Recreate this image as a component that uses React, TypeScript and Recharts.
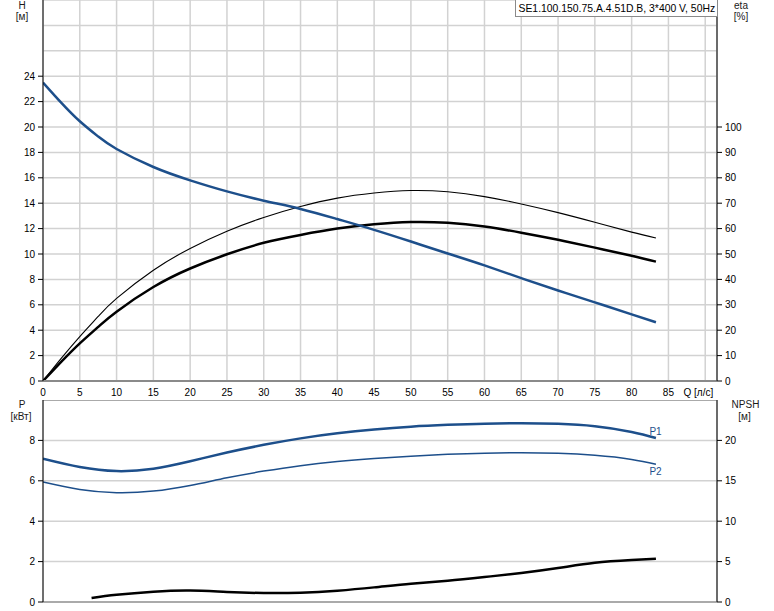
import React from 'react';
import { LineChart, Line, XAxis, YAxis, CartesianGrid, ReferenceLine } from 'recharts';

// ---------- axis ticks ----------
const qTicks = [0, 5, 10, 15, 20, 25, 30, 35, 40, 45, 50, 55, 60, 65, 70, 75, 80, 85, 90];
const hTicks = [0, 2, 4, 6, 8, 10, 12, 14, 16, 18, 20, 22, 24, 26, 28, 30];
const etaTicks = [0, 10, 20, 30, 40, 50, 60, 70, 80, 90, 100, 110, 120, 130, 140, 150];
const pTicks = [0, 2, 4, 6, 8, 10];
const npshTicks = [0, 5, 10, 15, 20, 25];
const qAxisLabel = 'Q [л/с]';
const title = 'SE1.100.150.75.A.4.51D.B, 3*400 V, 50Hz';

// ---------- top chart: H and eta ----------
const qTop = [0, 2.5, 5, 7.5, 10, 15, 20, 25, 30, 35, 40, 45, 50, 55, 60, 65, 70, 75, 80, 83.3];
const hValues = [23.5, 21.9, 20.45, 19.25, 18.27, 16.85, 15.8, 14.93, 14.2, 13.55, 12.75, 11.9, 10.98, 10.04, 9.1, 8.1, 7.13, 6.19, 5.25, 4.63];
const etaThin = [0, 9.0, 17.5, 25.4, 32.5, 43.6, 52.2, 59.0, 64.4, 68.7, 72.0, 74.0, 75.0, 74.5, 72.6, 69.7, 66.3, 62.5, 58.6, 56.3];
const etaThick = [0, 7.6, 14.8, 21.3, 27.3, 37.0, 44.3, 49.9, 54.4, 57.5, 60.0, 61.7, 62.6, 62.3, 60.8, 58.4, 55.6, 52.5, 49.3, 47.0];

// ---------- bottom chart: P1, P2, NPSH ----------
const qP = [0, 5, 10, 15, 20, 25, 30, 35, 40, 45, 50, 55, 60, 65, 70, 75, 80, 83.3];
const p1Values = [7.09, 6.68, 6.48, 6.6, 6.97, 7.4, 7.78, 8.1, 8.35, 8.54, 8.68, 8.77, 8.83, 8.85, 8.82, 8.7, 8.42, 8.12];
const p2Values = [5.94, 5.57, 5.41, 5.49, 5.77, 6.15, 6.48, 6.75, 6.95, 7.1, 7.22, 7.31, 7.37, 7.39, 7.36, 7.26, 7.06, 6.82];
const qNpsh = [6.6, 10, 15, 20, 25, 30, 35, 40, 45, 50, 55, 60, 65, 70, 75, 80, 83.3];
const npshValues = [0.5, 0.9, 1.28, 1.42, 1.24, 1.11, 1.15, 1.4, 1.81, 2.27, 2.64, 3.09, 3.59, 4.2, 4.86, 5.2, 5.36];

const topData = qTop.map((q, i) => ({ q, h: hValues[i], etaThin: etaThin[i], etaThick: etaThick[i] }));
const pData = qP.map((q, i) => ({ q, p1: p1Values[i], p2: p2Values[i] }));
const npshData = qNpsh.map((q, i) => ({ q, npsh: npshValues[i] }));

const FONT = 'Liberation Sans, Arial, sans-serif';
const BLUE = '#1d4f8b';
const GRID = '#d2d2d2';
const X_MAX = 91.6;

const makeLeftTick = (maxLabel: number) => (props: any) => {
  const { x, y, payload } = props;
  if (payload.value > maxLabel) return <g />;
  return (
    <g>
      <line x1={x + 3} x2={x + 8} y1={y} y2={y} stroke="#000" strokeWidth={1} />
      <text x={x} y={y} dy="0.35em" textAnchor="end" fontSize={10} fontFamily={FONT} fill="#000">
        {payload.value}
      </text>
    </g>
  );
};

const makeRightTick = (maxLabel: number) => (props: any) => {
  const { x, y, payload } = props;
  if (payload.value > maxLabel) return <g />;
  return (
    <g>
      <line x1={x - 8} x2={x - 3} y1={y} y2={y} stroke="#000" strokeWidth={1} />
      <text x={x} y={y} dy="0.35em" textAnchor="start" fontSize={10} fontFamily={FONT} fill="#000">
        {payload.value}
      </text>
    </g>
  );
};

const XTick = (props: any) => {
  const { x, y, payload } = props;
  const last = payload.value === qTicks[qTicks.length - 1];
  return (
    <text
      x={last ? x + 8 : x}
      y={y}
      dy="0.71em"
      textAnchor={last ? 'end' : 'middle'}
      fontSize={10}
      fontFamily={FONT}
      fill="#000"
    >
      {last ? qAxisLabel : payload.value}
    </text>
  );
};

const endLabel = (text: string, dx: number, dy: number, count: number) => (props: any) => {
  const { x, y, index } = props;
  if (index !== count - 1) return <g />;
  return (
    <text x={x + dx} y={y + dy} dy="0.35em" fontSize={10} fontFamily={FONT} fill={BLUE}>
      {text}
    </text>
  );
};

export default function App() {
  const txt = { fontSize: 10, fontFamily: FONT, fill: '#1a1a1a' } as const;
  return (
    <div style={{ position: 'absolute', left: 0, top: 0, width: 774, height: 611, background: '#fff' }}>
      <div style={{ position: 'absolute', left: 0, top: 0 }}>
        <LineChart width={774} height={400} data={topData} margin={{ top: 0, right: 0, left: 0, bottom: 0 }}>
          <CartesianGrid yAxisId="h" stroke={GRID} strokeWidth={1.5} />
          <XAxis
            dataKey="q"
            type="number"
            domain={[0, X_MAX]}
            ticks={qTicks}
            allowDataOverflow
            height={19}
            tickLine={false}
            tickSize={5}
            tickMargin={3}
            axisLine={{ stroke: '#8a8a8a', strokeWidth: 2 }}
            tick={<XTick />}
            interval={0}
          />
          <YAxis
            yAxisId="h"
            orientation="left"
            width={43}
            domain={[0, 30]}
            ticks={hTicks}
            interval={0}
            tickLine={false}
            tickSize={5}
            tickMargin={3}
            axisLine={{ stroke: '#000', strokeWidth: 1 }}
            tick={makeLeftTick(24)}
          />
          <YAxis
            yAxisId="eta"
            orientation="right"
            width={57}
            domain={[0, 150]}
            ticks={etaTicks}
            interval={0}
            tickLine={false}
            tickSize={5}
            tickMargin={3}
            axisLine={{ stroke: '#444', strokeWidth: 1.5 }}
            tick={makeRightTick(100)}
          />
          <Line yAxisId="eta" dataKey="etaThin" type="natural" stroke="#000" strokeWidth={1.1} dot={false} isAnimationActive={false} />
          <Line yAxisId="eta" dataKey="etaThick" type="natural" stroke="#000" strokeWidth={2.5} dot={false} isAnimationActive={false} />
          <Line yAxisId="h" dataKey="h" type="natural" stroke={BLUE} strokeWidth={2.5} dot={false} isAnimationActive={false} />
        </LineChart>
      </div>
      <div style={{ position: 'absolute', left: 0, top: 400 }}>
        <LineChart width={774} height={211} margin={{ top: 0, right: 0, left: 0, bottom: 0 }}>
          <CartesianGrid yAxisId="p" stroke={GRID} strokeWidth={1.5} />
          <XAxis
            dataKey="q"
            type="number"
            domain={[0, X_MAX]}
            ticks={qTicks}
            allowDataOverflow
            height={9}
            tickLine={false}
            tick={false}
            interval={0}
            axisLine={{ stroke: '#aaaaaa', strokeWidth: 2 }}
          />
          <YAxis
            yAxisId="p"
            orientation="left"
            width={43}
            domain={[0, 10]}
            ticks={pTicks}
            interval={0}
            tickLine={false}
            tickSize={5}
            tickMargin={3}
            axisLine={{ stroke: '#000', strokeWidth: 1 }}
            tick={makeLeftTick(8)}
          />
          <YAxis
            yAxisId="npsh"
            orientation="right"
            width={57}
            domain={[0, 25]}
            ticks={npshTicks}
            interval={0}
            tickLine={false}
            tickSize={5}
            tickMargin={3}
            axisLine={{ stroke: '#444', strokeWidth: 1.5 }}
            tick={makeRightTick(20)}
          />
          <ReferenceLine yAxisId="p" y={10} stroke="#aaaaaa" strokeWidth={2} />
          <Line
            yAxisId="p"
            data={pData}
            dataKey="p1"
            type="natural"
            stroke={BLUE}
            strokeWidth={2.5}
            dot={false}
            isAnimationActive={false}
            label={endLabel('P1', -6.5, -6.6, pData.length)}
          />
          <Line
            yAxisId="p"
            data={pData}
            dataKey="p2"
            type="natural"
            stroke={BLUE}
            strokeWidth={1.5}
            dot={false}
            isAnimationActive={false}
            label={endLabel('P2', -6.5, 7.3, pData.length)}
          />
          <Line
            yAxisId="npsh"
            data={npshData}
            dataKey="npsh"
            type="natural"
            stroke="#000"
            strokeWidth={2.5}
            dot={false}
            isAnimationActive={false}
          />
        </LineChart>
      </div>
      <svg
        width={774}
        height={611}
        style={{ position: 'absolute', left: 0, top: 0, pointerEvents: 'none' }}
      >
        <text x={22} y={9} textAnchor="middle" {...txt}>H</text>
        <text x={22} y={19.5} textAnchor="middle" {...txt}>[м]</text>
        <text x={741} y={9} textAnchor="middle" {...txt}>eta</text>
        <text x={741} y={19.5} textAnchor="middle" {...txt}>[%]</text>
        <text x={22} y={408} textAnchor="middle" {...txt}>P</text>
        <text x={21} y={420} textAnchor="middle" {...txt}>[кВт]</text>
        <text x={745.5} y={408} textAnchor="middle" {...txt}>NPSH</text>
        <text x={744.5} y={420} textAnchor="middle" {...txt}>[м]</text>
        <rect x={515.5} y={-1} width={202} height={17.5} fill="#fff" stroke="#8a8a8a" strokeWidth={1} />
        <text x={518.5} y={11.8} fontSize={10.4} fontFamily={FONT} fill="#000">{title}</text>
      </svg>
    </div>
  );
}
